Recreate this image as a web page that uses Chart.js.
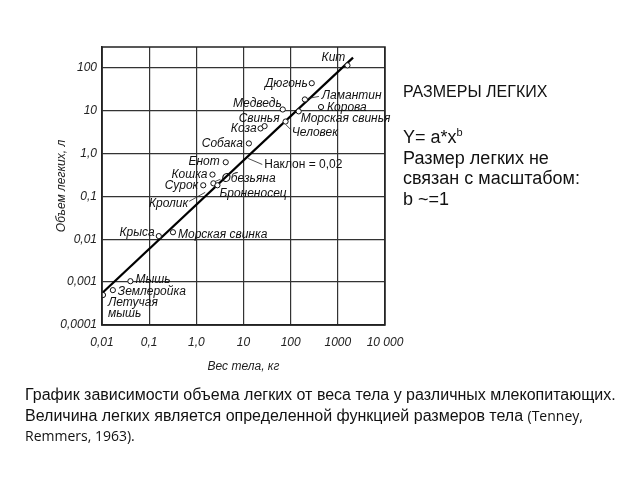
<!DOCTYPE html>
<html lang="ru">
<head>
  <meta charset="UTF-8">
  <title>Размеры легких</title>
  <script src="https://cdn.jsdelivr.net/npm/chart.js"></script>
  <style>
    body { margin: 0; width: 640px; height: 480px; background: #fff; position: relative; overflow: hidden;
           font-family: "Liberation Sans", Arial, sans-serif; color: #111; }
    #lungChart { position: absolute; left: 0; top: 0; }
    .side { position: absolute; left: 403px; white-space: nowrap; }
    .head { top: 83px; font-size: 16px; }
    .body { top: 122px; font-size: 18px; line-height: 20.5px; }
    .caption { position: absolute; left: 25px; top: 385px; font-size: 16px; line-height: 20.5px; white-space: nowrap; }
    .caption span { font-family: "Open Sans", sans-serif; font-size: 14px; }
  </style>
</head>
<body>
  <canvas id="lungChart" width="640" height="480"></canvas>

  <div class="side head">РАЗМЕРЫ ЛЕГКИХ</div>
  <div class="side body">Y= a*x<sup style="font-size:11px">b</sup><br>Размер легких не<br>связан с масштабом:<br>b ~=1</div>

  <div class="caption">График зависимости объема легких от веса тела у различных млекопитающих.<br>Величина легких является определенной функцией размеров тела <span>(Tenney,</span><br><span>Remmers, 1963).</span></div>

  <script>
    // данные (вес тела, кг / объем легких, л)
    const animals = ['Летучая мышь', 'Землеройка', 'Мышь', 'Крыса', 'Морская свинка', 'Сурок', 'Обезьяна',
      'Броненосец', 'Кошка', 'Енот', 'Собака', 'Коза', '', 'Свинья', 'Медведь', 'Морская свинья',
      'Ламантин', 'Корова', 'Дюгонь', 'Кит'];
    const massKg = [0.0105, 0.017, 0.04, 0.16, 0.32, 1.4, 2.3, 2.8, 2.2, 4.2, 13, 23, 28, 78, 68, 148, 200, 440, 280, 1600];
    const lungL = [0.0005, 0.00065, 0.00105, 0.0118, 0.0145, 0.18, 0.2, 0.18, 0.32, 0.62, 1.7, 3.8, 4.3, 5.5, 10.5, 9.5, 18, 12, 43, 112];

    // линия регрессии
    const lineMass = [0.01, 2100];
    const lineVol = [0.00055, 170];

    // подписи, указывающие на линию
    const noteNames = ['Человек', 'Кролик', 'Наклон = 0,02'];
    const noteMass = [75, 1.7, 12];
    const noteVol = [5.2, 0.13, 0.8];

    const xTicks = [0.01, 0.1, 1, 10, 100, 1000, 10000];
    const xTickLabels = ['0,01', '0,1', '1,0', '10', '100', '1000', '10 000'];
    const yTicks = [0.0001, 0.001, 0.01, 0.1, 1, 10, 100];
    const yTickLabels = ['0,0001', '0,001', '0,01', '0,1', '1,0', '10', '100'];

    // размещение подписей: [dx, dy, выравнивание, выноска]
    const place = {
      'Летучая мышь': [5, 8, 'left'],
      'Землеройка': [5, 2, 'left'],
      'Мышь': [5, -2, 'left'],
      'Крыса': [-4, -3, 'right'],
      'Морская свинка': [5, 2, 'left'],
      'Сурок': [-5, 0, 'right'],
      'Обезьяна': [8, -5, 'left', [2, -2, 7, -4]],
      'Броненосец': [2, 8, 'left'],
      'Кошка': [-5, 0, 'right'],
      'Енот': [-6, -1, 'right'],
      'Собака': [-6, 0, 'right'],
      'Коза': [-4, 0, 'right'],
      'Свинья': [-6, -3, 'right'],
      'Медведь': [-1, -6, 'right'],
      'Морская свинья': [2, 7, 'left'],
      'Ламантин': [17, -4, 'left', [3, -1, 14, -3]],
      'Корова': [6, 1, 'left'],
      'Дюгонь': [-4, 0, 'right'],
      'Кит': [-14, -8, 'center'],
      'Человек': [7, 10, 'left', [1, 2, 6, 7]],
      'Кролик': [-19, 12, 'right', [-18, 10, -2, 1]],
      'Наклон = 0,02': [17, 7, 'left', [1, 1, 15, 7]]
    };

    const labelsPlugin = {
      id: 'labelsPlugin',
      afterDatasetsDraw(chart) {
        const { ctx, chartArea: a, scales: { x, y } } = chart;
        ctx.save();
        ctx.strokeStyle = '#222';
        ctx.lineWidth = 1.5;
        ctx.strokeRect(a.left, a.top, a.right - a.left, a.bottom - a.top);

        ctx.fillStyle = '#111';
        ctx.textBaseline = 'middle';
        ctx.lineWidth = 0.8;

        function label(name, m, v) {
          const p = place[name];
          if (!p) return;
          const px = x.getPixelForValue(m);
          const py = y.getPixelForValue(v);
          ctx.font = name.startsWith('Наклон') ? '12px "Liberation Sans"' : 'italic 12px "Liberation Sans"';
          ctx.textAlign = p[2];
          const lines = name === 'Летучая мышь' ? ['Летучая', 'мышь'] : [name];
          lines.forEach((t, i) => ctx.fillText(t, px + p[0], py + p[1] + i * 11));
          if (p[3]) {
            ctx.beginPath();
            ctx.moveTo(px + p[3][0], py + p[3][1]);
            ctx.lineTo(px + p[3][2], py + p[3][3]);
            ctx.stroke();
          }
        }

        animals.forEach((n, i) => label(n, massKg[i], lungL[i]));
        noteNames.forEach((n, i) => label(n, noteMass[i], noteVol[i]));
        ctx.restore();
      }
    };

    const tickFont = { family: 'Liberation Sans', size: 12, style: 'italic' };

    new Chart(document.getElementById('lungChart'), {
      type: 'scatter',
      data: {
        datasets: [{
          data: massKg.map((m, i) => ({ x: m, y: lungL[i] })),
          pointRadius: 2.6,
          pointBackgroundColor: '#fff',
          pointBorderColor: '#111',
          pointBorderWidth: 1
        }, {
          data: lineMass.map((m, i) => ({ x: m, y: lineVol[i] })),
          showLine: true,
          borderColor: '#000',
          borderWidth: 2.2,
          pointRadius: 0
        }]
      },
      options: {
        responsive: false,
        animation: false,
        layout: { padding: { left: 40, top: 47, right: 255, bottom: 102 } },
        plugins: { legend: { display: false }, tooltip: { enabled: false } },
        scales: {
          x: {
            type: 'logarithmic',
            min: 0.01,
            max: 10000,
            afterBuildTicks: s => { s.ticks = xTicks.map(v => ({ value: v })); },
            afterFit: s => { s.height = 53; },
            ticks: {
              autoSkip: false, maxRotation: 0, padding: 10, color: '#222', font: tickFont,
              callback: v => xTickLabels[xTicks.indexOf(v)]
            },
            grid: { color: '#333', lineWidth: 1.2, drawTicks: false },
            border: { color: '#222', width: 1.5 },
            title: { display: true, text: 'Вес тела, кг', color: '#222', font: tickFont, padding: { top: 4, bottom: 4 } }
          },
          y: {
            type: 'logarithmic',
            min: 0.0001,
            max: 300,
            afterBuildTicks: s => { s.ticks = yTicks.map(v => ({ value: v })); },
            afterFit: s => { s.width = 62; },
            ticks: {
              autoSkip: false, padding: 5, color: '#222', font: tickFont,
              callback: v => yTickLabels[yTicks.indexOf(v)]
            },
            grid: { color: '#333', lineWidth: 1.2, drawTicks: false },
            border: { color: '#222', width: 1.5 },
            title: { display: true, text: 'Объем легких, л', color: '#222', font: tickFont, padding: { top: 14, bottom: 0 } }
          }
        }
      },
      plugins: [labelsPlugin]
    });
  </script>
</body>
</html>
